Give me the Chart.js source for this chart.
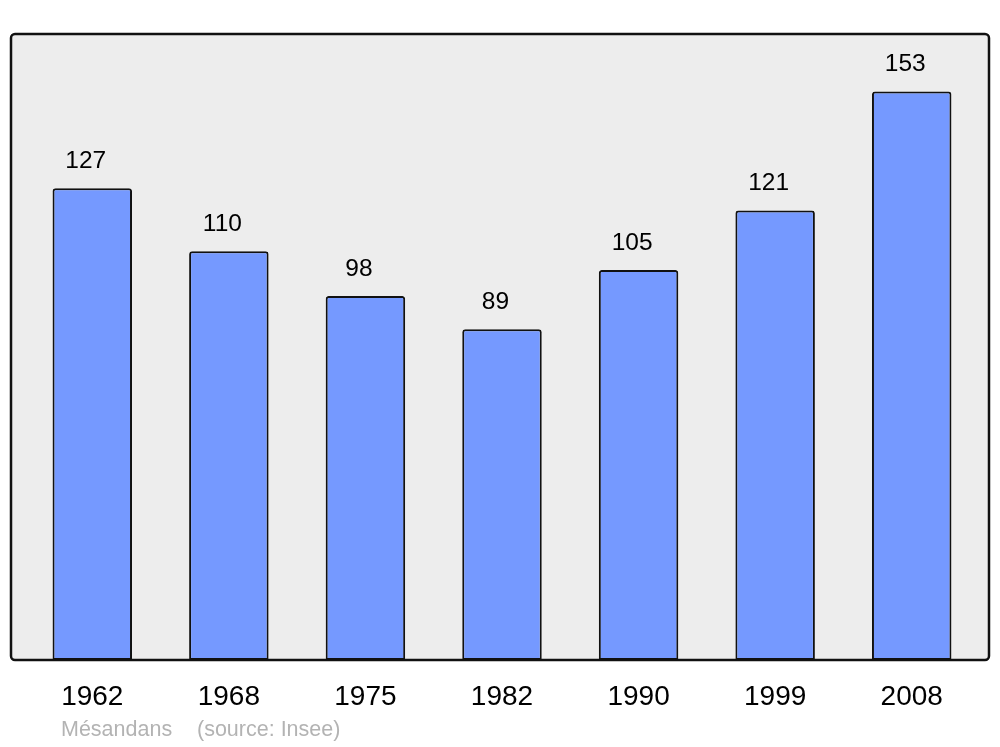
<!DOCTYPE html>
<html>
<head>
<meta charset="utf-8">
<script src="https://cdn.jsdelivr.net/npm/chart.js@4"></script>
<style>
  html, body { margin: 0; padding: 0; background: #ffffff; }
  #wrap { width: 1000px; height: 747px; position: relative; }
</style>
</head>
<body>
<div id="wrap"><canvas id="popChart" width="1000" height="747"></canvas></div>
<script>
  var years = ["1962", "1968", "1975", "1982", "1990", "1999", "2008"];
  var population = [127, 110, 98, 89, 105, 121, 153];
  var yMax = 168.5;

  // grey frame behind the bars
  var framePlugin = {
    id: 'frame',
    beforeDatasetsDraw: function(chart) {
      var c = chart.ctx, a = chart.chartArea;
      var x0 = 11, x1 = 989, y0 = a.top, y1 = a.bottom;
      c.save();
      c.beginPath();
      c.roundRect(x0, y0, x1 - x0, y1 - y0, 4);
      c.fillStyle = '#ededed';
      c.fill();
      c.restore();
    },
    afterDatasetsDraw: function(chart) {
      var c = chart.ctx, a = chart.chartArea;
      var x0 = 11, x1 = 989, y0 = a.top, y1 = a.bottom;
      c.save();
      c.beginPath();
      c.roundRect(x0, y0, x1 - x0, y1 - y0, 4);
      c.lineWidth = 2.5;
      c.strokeStyle = '#111111';
      c.stroke();

      // value labels above each bar
      var meta = chart.getDatasetMeta(0);
      c.fillStyle = '#000000';
      c.font = '24.5px "Liberation Sans", Arial, sans-serif';
      c.textAlign = 'center';
      c.textBaseline = 'middle';
      meta.data.forEach(function(bar, i) {
        c.fillText(population[i], bar.x - 6.5, bar.y - 27);
      });

      // footer
      c.fillStyle = '#b3b3b3';
      c.font = '21.5px "Liberation Sans", Arial, sans-serif';
      c.textAlign = 'left';
      c.fillText('Mésandans', 61, 730);
      c.fillText('(source: Insee)', 197, 730);
      c.restore();
    }
  };

  var ctx = document.getElementById("popChart").getContext('2d');

  var popChart = new Chart(ctx, {
    type: 'bar',
    data: {
      labels: years,
      datasets: [{
        data: population,
        backgroundColor: '#7599ff',
        borderColor: '#111111',
        borderWidth: 2,
        borderSkipped: false,
        borderRadius: { topLeft: 3, topRight: 3, bottomLeft: 0, bottomRight: 0 },
        barPercentage: 0.582,
        categoryPercentage: 1
      }]
    },
    options: {
      responsive: false,
      animation: false,
      layout: { padding: { left: 24, right: 20, top: 34, bottom: 0 } },
      plugins: {
        legend: { display: false },
        tooltip: { enabled: false }
      },
      scales: {
        x: {
          grid: { display: false, drawTicks: false },
          border: { display: false },
          ticks: {
            color: '#000000',
            padding: 20,
            font: { size: 28, family: '"Liberation Sans", Arial, sans-serif' }
          },
          afterFit: function(axis) { axis.height = 87; }
        },
        y: {
          display: false,
          min: 0,
          max: yMax
        }
      }
    },
    plugins: [framePlugin]
  });
</script>
</body>
</html>
